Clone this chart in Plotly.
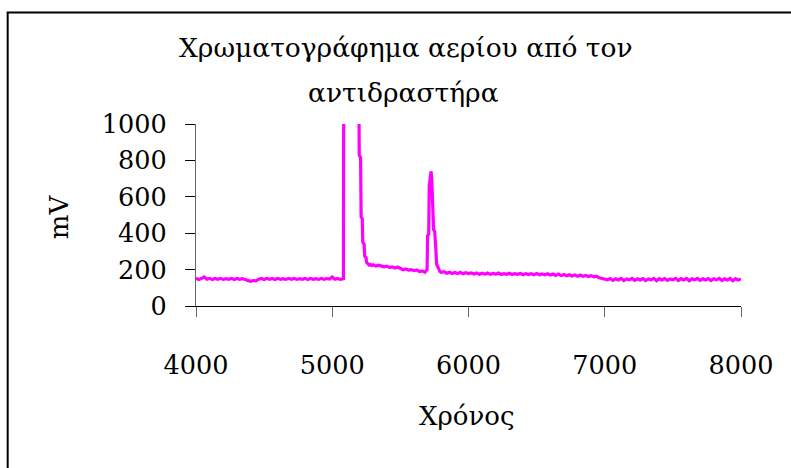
import plotly.graph_objects as go

# ---- data ----
time_base1 = [4000, 4020, 4040, 4060, 4080, 4100, 4120, 4140, 4160, 4180, 4200, 4220, 4240, 4260,
              4280, 4300, 4320, 4340, 4360, 4380, 4400, 4420, 4440, 4460, 4480, 4500, 4520, 4540,
              4560, 4580, 4600, 4620, 4640, 4660, 4680, 4700, 4720, 4740, 4760, 4780, 4800, 4820,
              4840, 4860, 4880, 4900, 4920, 4940, 4960, 4980, 5000, 5020, 5040, 5060, 5078]
mv_base1 = [152, 146, 151, 160, 147, 152, 146, 151, 147, 152, 146, 150, 147, 152,
            146, 151, 147, 150, 146, 141, 136, 140, 138, 147, 151, 146, 152, 147,
            151, 146, 152, 147, 150, 146, 152, 147, 151, 146, 150, 147, 152, 146,
            151, 147, 150, 146, 152, 147, 151, 148, 159, 147, 151, 146, 149]

time_peak1 = [5082, 5086, 5100, 5150, 5190, 5196, 5198, 5208, 5212, 5220, 5224, 5234, 5238,
              5248, 5252, 5262, 5270, 5280, 5290, 5300, 5320, 5340, 5360, 5380, 5400, 5420,
              5440, 5460, 5480, 5500, 5520, 5540, 5560, 5580, 5600, 5620, 5640, 5660, 5680, 5690]
mv_peak1 = [150, 1900, 2400, 2600, 1900, 1000, 830, 815, 490, 480, 350, 340, 275,
            265, 240, 232, 225, 228, 222, 226, 219, 224, 218, 215, 219, 212,
            215, 209, 214, 204, 199, 203, 197, 200, 194, 198, 189, 193, 186, 195]

time_peak2 = [5696, 5700, 5708, 5712, 5718, 5722, 5726, 5730, 5734, 5740, 5744, 5752, 5756,
              5762, 5766, 5772, 5780, 5790, 5800, 5820, 5840, 5860, 5880, 5900, 5920, 5940,
              5960, 5980]
mv_peak2 = [200, 385, 395, 660, 690, 735, 740, 700, 610, 595, 420, 410, 300,
            290, 230, 220, 200, 190, 185, 188, 180, 186, 179, 184, 178, 185,
            177, 183]

time_tail1 = [6000, 6020, 6040, 6060, 6080, 6100, 6120, 6140, 6160, 6180, 6200, 6220, 6240,
              6260, 6280, 6300, 6320, 6340, 6360, 6380, 6400, 6420, 6440, 6460, 6480, 6500,
              6520, 6540, 6560, 6580, 6600, 6620, 6640, 6660, 6680, 6700, 6720, 6740, 6760,
              6780, 6800, 6820, 6840, 6860, 6880, 6900, 6920, 6940, 6960, 6980]
mv_tail1 = [178, 182, 176, 181, 174, 180, 175, 181, 174, 179, 175, 181, 173,
            178, 174, 180, 173, 178, 174, 179, 172, 178, 173, 177, 172, 178,
            172, 176, 171, 177, 170, 176, 168, 175, 167, 173, 166, 172, 165,
            171, 164, 170, 163, 168, 162, 167, 160, 164, 155, 150]

time_tail2 = [7000, 7020, 7040, 7060, 7080, 7100, 7120, 7140, 7160, 7180, 7200, 7220, 7240,
              7260, 7280, 7300, 7320, 7340, 7360, 7380, 7400, 7420, 7440, 7460, 7480, 7500,
              7520, 7540, 7560, 7580, 7600, 7620, 7640, 7660, 7680, 7700, 7720, 7740, 7760,
              7780, 7800, 7820, 7840, 7860, 7880, 7900, 7920, 7940, 7960, 7980, 8000]
mv_tail2 = [147, 144, 151, 141, 150, 143, 152, 140, 149, 144, 152, 141, 150,
            143, 151, 140, 149, 144, 152, 139, 150, 143, 151, 141, 149, 144,
            152, 140, 150, 143, 151, 139, 149, 144, 152, 141, 150, 143, 151,
            140, 150, 144, 152, 140, 149, 143, 151, 139, 150, 143, 149]

x_ticks = [4000, 5000, 6000, 7000, 8000]
y_ticks = [0, 200, 400, 600, 800, 1000]

title_line1 = "Χρωματογράφημα αερίου από τον"
title_line2 = "αντιδραστήρα"
x_title = "Χρόνος"
y_title = "mV"

time = time_base1 + time_peak1 + time_peak2 + time_tail1 + time_tail2
mv = mv_base1 + mv_peak1 + mv_peak2 + mv_tail1 + mv_tail2

# ---- layout geometry (pixels) ----
W, H = 791, 468
L, R, T, B = 196, 741.5, 124, 306
FONT = "DejaVu Serif"


def px(xp):
    return (xp - L) / (R - L)


def py(yp):
    return (B - yp) / (B - T)


fig = go.Figure()
fig.add_trace(go.Scatter(x=time, y=mv, mode="lines",
                         line=dict(color="#FF00FF", width=3.2),
                         showlegend=False, hoverinfo="skip"))

fig.update_layout(
    width=W, height=H, autosize=False,
    margin=dict(l=L, r=W - R, t=T, b=H - B, pad=0),
    paper_bgcolor="white", plot_bgcolor="white",
    font=dict(family=FONT, size=25, color="black"),
    showlegend=False,
)

fig.update_xaxes(range=[4000, 8000], tickvals=x_ticks, ticktext=[str(v) for v in x_ticks],
                 showgrid=False, zeroline=False, showline=True, linecolor="black", linewidth=1.3,
                 ticks="outside", ticklen=10, tickwidth=1.3, tickcolor="#666666",
                 ticklabelstandoff=26, tickfont=dict(family=FONT, size=25.5, color="black"))
fig.update_yaxes(range=[0, 1000], tickvals=y_ticks, ticktext=[str(v) for v in y_ticks],
                 showgrid=False, zeroline=False, showline=True, linecolor="#666666", linewidth=1.3,
                 ticks="outside", ticklen=10, tickwidth=1.3, tickcolor="black",
                 ticklabelstandoff=13, tickfont=dict(family=FONT, size=25.5, color="black"))

ann = [
    dict(text=title_line1, x=px(406), y=py(48), font=dict(size=26.5)),
    dict(text=title_line2, x=px(404), y=py(92), font=dict(size=26.5)),
    dict(text=x_title, x=px(467), y=py(416), font=dict(size=26)),
    dict(text=y_title, x=px(59), y=py(217), font=dict(size=26)),
]
ann[3]["textangle"] = -90
for a in ann:
    fig.add_annotation(xref="paper", yref="paper", showarrow=False,
                       xanchor="center", yanchor="middle", **a)

# outer chart-area border
fig.add_shape(type="rect", xref="paper", yref="paper",
              x0=px(7.5), y0=py(12.5), x1=px(800), y1=py(480),
              line=dict(color="black", width=2), layer="above")

fig.write_html("out.html")
